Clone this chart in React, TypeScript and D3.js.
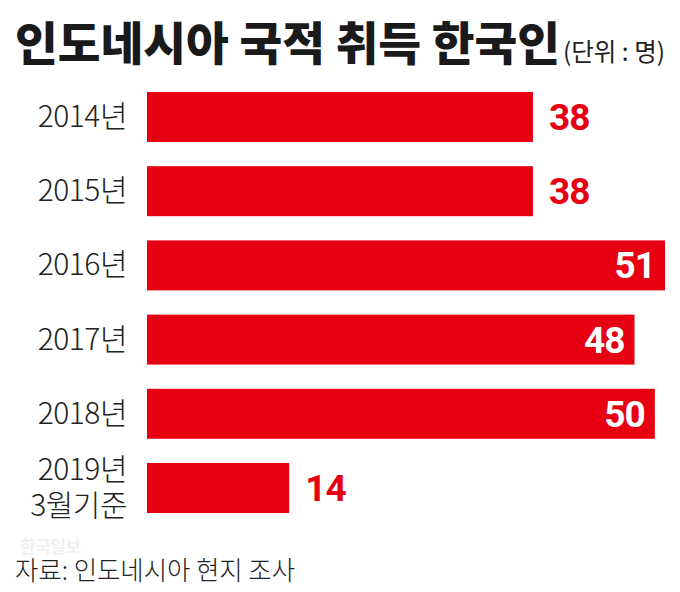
import React from "react";
import * as d3 from "d3";

const categories: string[][] = [["2014년"], ["2015년"], ["2016년"], ["2017년"], ["2018년"], ["2019년", "3월기준"]];
const values: number[] = [38, 38, 51, 48, 50, 14];
const insideLabel: boolean[] = [false, false, true, true, true, false];
const title = "인도네시아 국적 취득 한국인";
const unit = "(단위 : 명)";
const source = "자료: 인도네시아 현지 조사";
const watermark = "한국일보";

const W = 680;
const H = 592;
const RED = "#e60012";
const FONT = "'Noto Sans CJK KR', 'Noto Sans', sans-serif";

export default function App() {
  const x = d3.scaleLinear().domain([0, 51]).range([147, 665]);
  const y = d3
    .scalePoint<number>()
    .domain(d3.range(values.length))
    .range([117, 488]);
  const barH = 50;

  return (
    <svg
      width={W}
      height={H}
      style={{ position: "absolute", left: 0, top: 0, background: "#fff" }}
      fontFamily={FONT}
    >
      <rect width={W} height={H} fill="#fff" />
      <text
        x={15}
        y={60}
        fontSize={46}
        fontWeight={900}
        fill="#1a1a1a"
        textLength={545}
        lengthAdjust="spacingAndGlyphs"
      >
        {title}
      </text>
      <text
        x={563}
        y={61}
        fontSize={25}
        fontWeight={400}
        fill="#222"
        textLength={102}
        lengthAdjust="spacingAndGlyphs"
      >
        {unit}
      </text>
      {values.map((v, i) => {
        const cy = y(i)!;
        const lines = categories[i];
        const lh = 36;
        return (
          <g key={i}>
            <rect x={x(0)} y={cy - barH / 2} width={x(v) - x(0)} height={barH} fill={RED} />
            {lines.map((l, j) => (
              <text
                key={j}
                x={127}
                y={cy + 10 + (j - (lines.length - 1) / 2) * lh}
                fontSize={30}
                fontWeight={300}
                fill="#222"
                textAnchor="end"
                letterSpacing={-0.5}
              >
                {l}
              </text>
            ))}
            <text
              x={insideLabel[i] ? x(v) - 10 : x(v) + 16}
              y={cy + 13}
              fontSize={37}
              fontWeight={700}
              fill={insideLabel[i] ? "#fff" : RED}
              textAnchor={insideLabel[i] ? "end" : "start"}
              fontFamily="Roboto, sans-serif"
              letterSpacing={-1}
            >
              {v}
            </text>
          </g>
        );
      })}
      <text x={20} y={553} fontSize={17} fontWeight={700} fill="#f0f0f0" letterSpacing={-0.5}>
        {watermark}
      </text>
      <text
        x={15}
        y={580}
        fontSize={26}
        fontWeight={300}
        fill="#222"
        textLength={280}
        lengthAdjust="spacingAndGlyphs"
      >
        {source}
      </text>
    </svg>
  );
}
